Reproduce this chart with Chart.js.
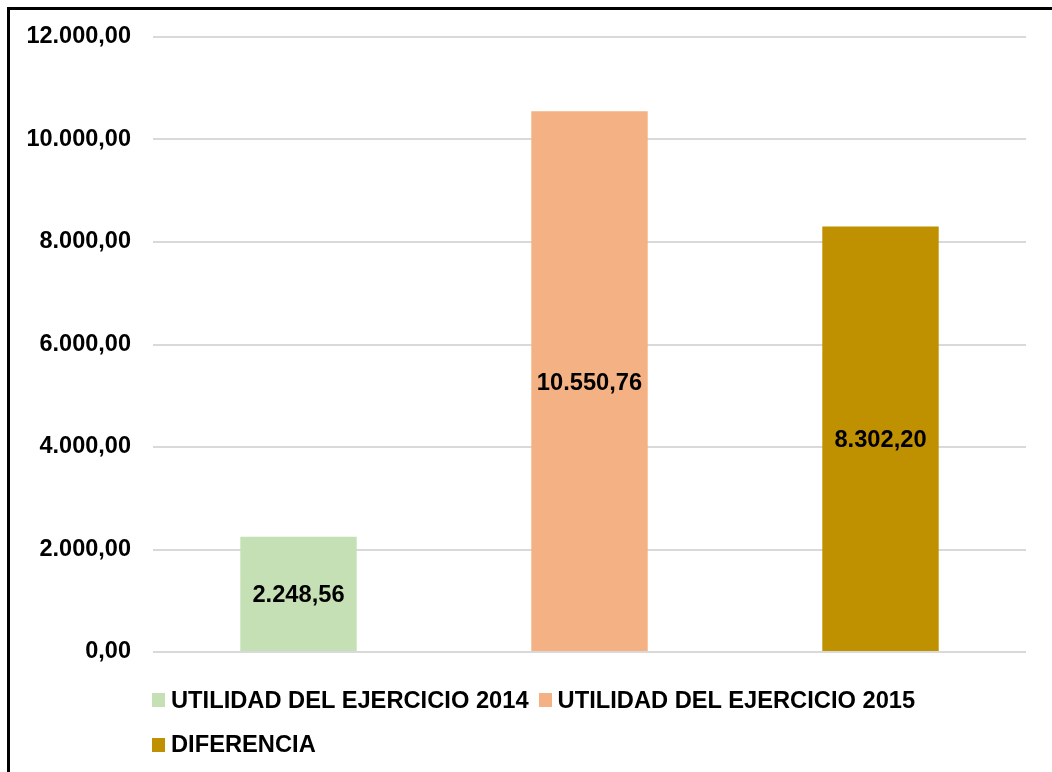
<!DOCTYPE html>
<html>
<head>
<meta charset="utf-8">
<script src="https://cdn.jsdelivr.net/npm/chart.js@4/dist/chart.umd.min.js"></script>
<style>
  html, body { margin: 0; padding: 0; background: #ffffff; width: 1052px; height: 772px; overflow: hidden; }
  #frame { position: absolute; left: 7px; top: 7px; width: 1200px; height: 900px; box-sizing: border-box;
           border-left: 3px solid #000; border-top: 3px solid #000; }
  #c { position: absolute; left: 0; top: 0; }
  #legend { position: absolute; left: 152px; top: 678px; width: 800px; display: flex; flex-wrap: wrap;
            column-gap: 10px; font-family: "Liberation Sans", Arial, sans-serif; font-weight: bold;
            font-size: 23.7px; color: #000; }
  .item { display: flex; align-items: center; height: 44.5px; white-space: nowrap; }
  .box { width: 13px; height: 14px; margin-right: 6px; flex: none; }
</style>
</head>
<body>
<div id="frame"></div>
<canvas id="c" width="1052" height="772"></canvas>
<div id="legend"></div>
<script>
const categories = ["UTILIDAD DEL EJERCICIO 2014", "UTILIDAD DEL EJERCICIO 2015", "DIFERENCIA"];
const values = [2248.56, 10550.76, 8302.20];
const barColors = ["#C5E0B4", "#F4B183", "#BF9000"];
const yTicks = [0, 2000, 4000, 6000, 8000, 10000, 12000];

function fmt(v) {
  const parts = v.toFixed(2).split(".");
  const intPart = parts[0].replace(/\B(?=(\d{3})+(?!\d))/g, ".");
  return intPart + "," + parts[1];
}

const FONT = '"Liberation Sans", Arial, sans-serif';
const LABEL_SIZE = 23.7;

const valueLabels = {
  id: "valueLabels",
  afterDatasetsDraw(chart) {
    const ctx = chart.ctx;
    const meta = chart.getDatasetMeta(0);
    ctx.save();
    ctx.font = "bold " + LABEL_SIZE + "px " + FONT;
    ctx.fillStyle = "#000";
    ctx.textAlign = "center";
    ctx.textBaseline = "alphabetic";
    meta.data.forEach((bar, i) => {
      const p = bar.getProps(["x", "y", "base"], true);
      ctx.fillText(fmt(values[i]), p.x, (p.y + p.base) / 2 + LABEL_SIZE * 0.358);
    });
    ctx.restore();
  }
};

new Chart(document.getElementById("c"), {
  type: "bar",
  data: {
    labels: categories,
    datasets: [{
      data: values,
      backgroundColor: barColors,
      borderWidth: 0,
      barPercentage: 0.4,
      categoryPercentage: 1.0
    }]
  },
  options: {
    responsive: false,
    animation: false,
    devicePixelRatio: 1,
    layout: { padding: { left: 27, top: 37, right: 26, bottom: 120 } },
    plugins: { legend: { display: false }, tooltip: { enabled: false } },
    scales: {
      x: { display: false },
      y: {
        min: yTicks[0],
        max: yTicks[yTicks.length - 1],
        afterBuildTicks(scale) { scale.ticks = yTicks.map(v => ({ value: v })); },
        afterFit(scale) { scale.width = 126; },
        border: { display: false },
        grid: { color: "#d9d9d9", lineWidth: 2, drawTicks: false },
        ticks: {
          padding: 22,
          color: "#000",
          font: { family: FONT, weight: "bold", size: 23.5 },
          callback: (v) => fmt(v)
        }
      }
    }
  },
  plugins: [valueLabels]
});

const legend = document.getElementById("legend");
categories.forEach((name, i) => {
  const item = document.createElement("div");
  item.className = "item";
  const box = document.createElement("span");
  box.className = "box";
  box.style.background = barColors[i];
  const txt = document.createElement("span");
  txt.textContent = name;
  item.appendChild(box);
  item.appendChild(txt);
  legend.appendChild(item);
});
</script>
</body>
</html>
